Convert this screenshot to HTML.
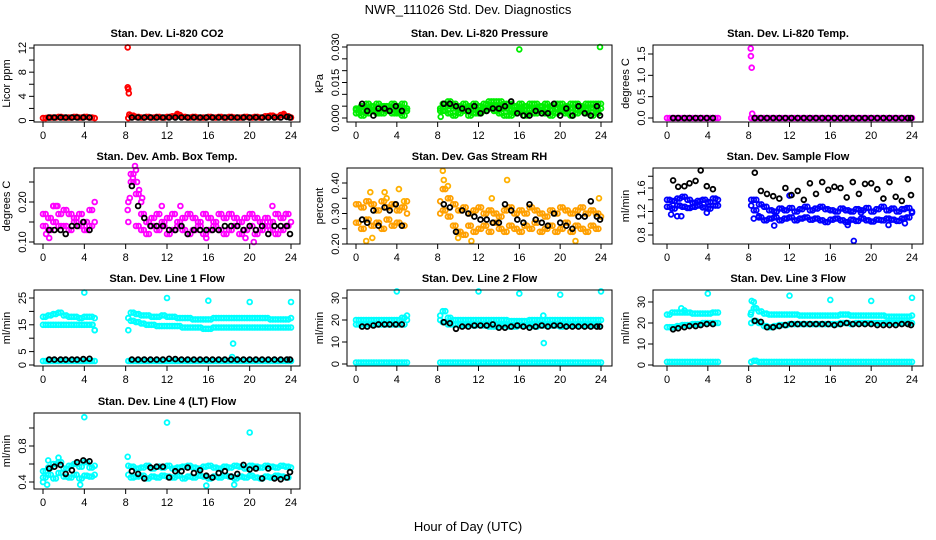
<!DOCTYPE html>
<html><head><meta charset="utf-8"><style>
html,body{margin:0;padding:0;background:#fff}
svg{display:block;font-family:"Liberation Sans",sans-serif}
</style></head><body>
<svg id="chart" width="936" height="540" viewBox="0 0 936 540" xmlns="http://www.w3.org/2000/svg">
<text x="468" y="14" text-anchor="middle" font-size="13">NWR_111026  Std. Dev. Diagnostics</text>
<text x="468" y="531" text-anchor="middle" font-size="13">Hour of Day (UTC)</text>
</svg>
<script>
// shared time arrays (hours)
const T = [0,0.5,1,1.5,2,2.5,3,3.5,4,4.5,5,8.5,9,9.5,10,10.5,11,11.5,12,12.5,13,13.5,14,14.5,15,15.5,16,16.5,17,17.5,18,18.5,19,19.5,20,20.5,21,21.5,22,22.5,23,23.5,24];
const T2 = [0.25,0.75,1.25,1.75,2.25,2.75,3.25,3.75,4.25,4.75,8.25,8.75,9.25,9.75,10.25,10.75,11.25,11.75,12.25,12.75,13.25,13.75,14.25,14.75,15.25,15.75,16.25,16.75,17.25,17.75,18.25,18.75,19.25,19.75,20.25,20.75,21.25,21.75,22.25,22.75,23.25,23.75];
const TK = [0.6,1.1,1.7,2.2,2.8,3.3,3.9,4.5,8.6,9.2,9.8,10.4,11,11.6,12.2,12.8,13.4,14,14.6,15.2,15.8,16.4,17,17.6,18.2,18.8,19.4,20,20.6,21.2,21.8,22.4,23,23.6,23.9];
const xTicks = [0,4,8,12,16,20,24];

// CO2
const co2Main = [0.4,0.5,0.5,0.6,0.5,0.5,0.6,0.5,0.6,0.5,0.4,0.8,0.6,0.5,0.6,0.5,0.6,0.5,0.6,0.7,0.9,0.6,0.5,0.6,0.5,0.5,0.6,0.5,0.6,0.5,0.6,0.5,0.5,0.6,0.5,0.6,0.5,0.7,0.8,0.6,0.9,0.7,0.5];
const co2OutX = [8.2,8.2,8.25,8.3,8.35,13,23.3];
const co2OutY = [12.1,5.5,5.2,4.5,1.0,1.1,1.1];
const co2Black = [0.5,0.5,0.5,0.5,0.5,0.5,0.5,0.5,0.5,0.5,0.5,0.5,0.5,0.5,0.5,0.5,0.5,0.5,0.5,0.5,0.5,0.5,0.5,0.5,0.5,0.5,0.5,0.5,0.5,0.5,0.5,0.5,0.5,0.6,0.5];
// Pressure
const presHi = [0.004,0.005,0.006,0.005,0.006,0.005,0.005,0.006,0.005,0.006,0.004,0.006,0.007,0.006,0.005,0.006,0.005,0.006,0.005,0.006,0.007,0.007,0.007,0.006,0.006,0.005,0.006,0.005,0.006,0.006,0.005,0.006,0.005,0.006,0.006,0.005,0.006,0.006,0.005,0.006,0.006,0.006,0.006];
const presMid = [0.0035,0.003,0.004,0.0035,0.003,0.004,0.0035,0.004,0.003,0.004,0.003,0.0045,0.005,0.004,0.0035,0.003,0.004,0.0035,0.003,0.004,0.0045,0.005,0.0045,0.004,0.0035,0.003,0.004,0.0035,0.0035,0.004,0.003,0.004,0.0035,0.004,0.0035,0.003,0.004,0.0035,0.004,0.0035,0.004,0.0035,0.004];
const presLo = [0.002,0.001,0.002,0.003,0.002,0.002,0.003,0.002,0.002,0.001,0.004,0.003,0.002,0.001,0.002,0.003,0.001,0.002,0.002,0.003,0.004,0.003,0.002,0.001,0.001,0.002,0.003,0.001,0.002,0.002,0.003,0.002,0.001,0.002,0.003,0.002,0.001,0.002,0.003,0.002,0.001,0.002];
const presOutX = [8.3,16,23.9];
const presOutY = [0.0005,0.029,0.030];
const presBlack = [0.006,0.003,0.001,0.004,0.004,0.003,0.005,0.003,0.006,0.006,0.005,0.004,0.003,0.005,0.002,0.003,0.004,0.004,0.005,0.007,0.002,0.001,0.001,0.003,0.002,0.002,0.006,0.001,0.004,0.001,0.005,0.002,0.001,0.005,0.001];
// Li-820 temp
const tempMain = [0,0,0,0,0,0,0,0,0,0,0,0,0,0,0,0,0,0,0,0,0,0,0,0,0,0,0,0,0,0,0,0,0,0,0,0,0,0,0,0,0,0,0];
const tempOutX = [8.2,8.22,8.3,8.35];
const tempOutY = [1.63,1.45,1.18,0.1];
const tempBlack = [0,0,0,0,0,0,0,0,0,0,0,0,0,0,0,0,0,0,0,0,0,0,0,0,0,0,0,0,0,0,0,0,0,0,0];
// Amb box temp
const ambHi = [0.17,0.16,0.19,0.17,0.18,0.17,0.16,0.17,0.15,0.18,0.15,0.27,0.22,0.17,0.15,0.16,0.17,0.15,0.16,0.17,0.15,0.16,0.17,0.16,0.15,0.17,0.16,0.15,0.17,0.16,0.17,0.16,0.15,0.16,0.17,0.16,0.15,0.16,0.15,0.17,0.16,0.17,0.15];
const ambLo = [0.14,0.13,0.15,0.14,0.14,0.13,0.15,0.14,0.13,0.14,0.20,0.25,0.14,0.13,0.12,0.14,0.13,0.14,0.12,0.13,0.14,0.13,0.12,0.13,0.14,0.12,0.13,0.14,0.13,0.12,0.13,0.14,0.12,0.13,0.14,0.12,0.13,0.14,0.13,0.12,0.13,0.14];
const ambOutX = [0.3,0.6,1.0,1.4,8.2,8.4,8.7,8.9,9.0,9.1,9.3,9.5,9.6,11.5,13.3,15.8,19.6,20.4,22.2,23.5];
const ambOutY = [0.12,0.11,0.19,0.19,0.18,0.21,0.26,0.29,0.28,0.25,0.23,0.20,0.21,0.19,0.19,0.11,0.11,0.10,0.19,0.17];
const ambBlack = [0.13,0.13,0.13,0.12,0.14,0.14,0.15,0.13,0.24,0.19,0.16,0.14,0.14,0.14,0.13,0.13,0.14,0.12,0.13,0.13,0.13,0.13,0.13,0.14,0.14,0.14,0.13,0.14,0.13,0.14,0.12,0.14,0.14,0.14,0.12];
// RH
const rhHi = [0.33,0.32,0.34,0.33,0.31,0.34,0.32,0.33,0.31,0.32,0.30,0.38,0.35,0.33,0.31,0.32,0.30,0.31,0.32,0.30,0.31,0.30,0.29,0.31,0.32,0.30,0.31,0.30,0.32,0.31,0.30,0.29,0.31,0.30,0.32,0.31,0.30,0.31,0.32,0.30,0.31,0.30,0.29];
const rhLo = [0.27,0.25,0.28,0.26,0.27,0.25,0.28,0.26,0.27,0.26,0.34,0.31,0.29,0.26,0.24,0.23,0.26,0.24,0.25,0.26,0.24,0.27,0.25,0.24,0.26,0.25,0.24,0.26,0.25,0.27,0.24,0.25,0.26,0.24,0.25,0.27,0.24,0.26,0.25,0.24,0.26,0.25];
const rhOutX = [1.0,1.6,1.4,2.8,3.0,4.2,4.7,8.5,8.6,9.0,10.0,14.8,13.3,21.5,23.8,11.3];
const rhOutY = [0.21,0.22,0.37,0.37,0.35,0.38,0.34,0.44,0.41,0.39,0.22,0.41,0.35,0.21,0.35,0.21];
const rhBlack = [0.28,0.27,0.31,0.26,0.32,0.31,0.33,0.26,0.33,0.32,0.24,0.31,0.30,0.29,0.28,0.28,0.27,0.27,0.33,0.31,0.28,0.27,0.33,0.28,0.27,0.26,0.30,0.27,0.26,0.25,0.29,0.29,0.34,0.29,0.28];
// Sample flow
const sfHi = [1.40,1.38,1.42,1.45,1.40,1.35,1.38,1.40,1.36,1.42,1.40,1.40,1.32,1.28,1.22,1.20,1.25,1.22,1.26,1.20,1.24,1.28,1.22,1.25,1.28,1.24,1.22,1.20,1.25,1.22,1.20,1.24,1.22,1.26,1.20,1.24,1.28,1.22,1.25,1.20,1.24,1.26,1.20];
const sfLo = [1.28,1.25,1.30,1.28,1.26,1.28,1.30,1.27,1.25,1.30,1.30,1.22,1.10,1.05,1.08,1.10,1.05,1.08,1.10,1.05,1.08,1.10,1.06,1.08,1.05,1.02,1.06,1.08,1.05,1.02,1.06,1.04,1.08,1.05,1.03,1.06,1.05,1.08,1.06,1.04,1.08,1.10];
const sfOutX = [0.4,1.0,1.4,3.9,8.5,9.0,10.5,12,18.3,17.7,19.0,21.7,23.3,24];
const sfOutY = [1.15,1.12,1.12,1.18,1.08,1.12,0.96,1.47,0.70,0.97,1.18,0.97,1.00,1.18];
const sfBlack = [1.73,1.62,1.63,1.68,1.72,1.90,1.63,1.58,1.86,1.55,1.50,1.46,1.42,1.60,1.48,1.55,1.40,1.68,1.50,1.70,1.57,1.62,1.60,1.44,1.70,1.50,1.67,1.68,1.58,1.42,1.70,1.45,1.38,1.75,1.48];
// Line 1
const l1Hi = [18,18.5,19,19.5,18.5,18,18,17.5,18,18,17.5,19.5,19,18.5,18.5,18,18,18.5,18,18,17.5,17.5,17.5,17,17,17,17,17.5,17.5,17.5,17.5,17.5,17.5,17.5,17.5,17.5,17.5,17.5,17,17,17,17,17.5];
const l1Lo = [15,15,15,15,15,15,15,15,15,15,13,16.5,16,15.5,15,15,14.5,14.5,14.5,14.5,14.5,14,14,14,14,13.5,13.5,14,14,14,14,14,14,14,14,14,14,14,14,14,14,14,14];
const l1Base = [1.5,1.5,1.5,1.5,1.5,1.5,1.5,1.5,1.5,1.5,1.5,1.5,1.5,1.5,1.5,1.5,1.5,1.5,1.5,1.5,1.5,1.5,1.5,1.5,1.5,1.5,1.5,1.5,1.5,1.5,1.5,1.5,1.5,1.5,1.5,1.5,1.5,1.5,1.5,1.5,1.5,1.5,1.5];
const l1OutX = [4,12,16,20,24,18.4,18.3,4.8,5.0];
const l1OutY = [27,25,24,23.5,23.5,8,3,15,13];
const l1Black = [2,2,2,2,2,2,2.2,2.3,2,2,2,2,2,2,2.3,2.2,2,2,2,2,2,2,2,2,2,2,2,2,2,2,2,2,2,2,2];
// Line 2
const l2Hi = [20,20,20,20,20,20,20,20,20,21,20,24,21,20,20,20,20,20,20,20,20,20,20,20,19.5,19.5,19.5,19.5,20,20,20,20,20,20,20,20,20,20,20,20,20,20,20];
const l2Lo = [18,18,18,18,18,18,18,18,18,18,22,19,18,18,18,17.5,18,17.5,18,17.5,17,17,17.5,17.5,17,17,17.5,17.5,17.5,17,17.5,17.5,17.5,17.5,17,17.5,17.5,17.5,17.5,17.5,17.5,17.5];
const l2Base = [0.7,0.7,0.7,0.7,0.7,0.7,0.7,0.7,0.7,0.7,0.7,0.7,0.7,0.7,0.7,0.7,0.7,0.7,0.7,0.7,0.7,0.7,0.7,0.7,0.7,0.7,0.7,0.7,0.7,0.7,0.7,0.7,0.7,0.7,0.7,0.7,0.7,0.7,0.7,0.7,0.7,0.7,0.7];
const l2OutX = [4,12,16,20,24,18.4,18.35];
const l2OutY = [33,33,32,31.5,33,9.5,22];
const l2Black = [17,17,17.5,18,18,18,18,18,19,18.5,16,17,17,17.5,17.5,17.5,18,16.5,16.5,17,17.5,17,16.5,17,17.5,17,17.5,17.5,17,17,17,17,17,17,17];
// Line 3
const l3Hi = [24,25,25,25,25,24.5,24.5,24.5,24.5,25,25,27,25.5,24.5,24,24,24,24,24,24,23.5,23.5,23.5,23.5,23.5,23.5,23.5,23.5,24,24,23.5,23.5,23.5,23.5,23.5,23.5,23.5,23,23,23,23,23,23.5];
const l3Lo = [18,18,18.5,19,19,19.5,19.5,20,20,20,20,21,20,18.5,18,18.5,19,19,19.5,19.5,19.5,19.5,19.5,19.5,19.5,19.5,19.5,19.5,20,20,19.5,20,20,20,20,20,20,20,20,20,20,20,20];
const l3Base = [1.5,1.5,1.5,1.5,1.5,1.5,1.5,1.5,1.5,1.5,1.5,2,1.5,1.5,1.5,1.5,1.5,1.5,1.5,1.5,1.5,1.5,1.5,1.5,1.5,1.5,1.5,1.5,1.5,1.5,1.5,1.5,1.5,1.5,1.5,1.5,1.5,1.5,1.5,1.5,1.5,1.5,1.5];
const l3OutX = [8.2,8.3,8.5,8.7,1.4,1.7,4,12,16,20,24];
const l3OutY = [24,30.5,30,27,27,26,34,33,31,30.5,32];
const l3Black = [17,17.5,18,18.5,18.5,19,19.5,19.5,21,20.5,18,18,18.5,19,19.5,19.5,19.5,19.5,19.5,19.5,19.5,19,19.5,20,19.5,19.5,19.5,19.5,19,19,19,19,19.5,19.5,19];
// Line 4
const l4Hi = [0.52,0.56,0.60,0.62,0.55,0.58,0.60,0.57,0.62,0.56,0.58,0.57,0.55,0.56,0.58,0.55,0.57,0.56,0.58,0.55,0.56,0.57,0.58,0.56,0.55,0.57,0.58,0.56,0.55,0.57,0.56,0.58,0.57,0.55,0.58,0.57,0.56,0.58,0.57,0.56,0.58,0.57,0.56];
const l4Lo = [0.45,0.48,0.44,0.50,0.46,0.45,0.48,0.44,0.47,0.46,0.48,0.45,0.46,0.47,0.44,0.46,0.45,0.47,0.46,0.45,0.47,0.44,0.46,0.45,0.47,0.46,0.44,0.46,0.45,0.47,0.46,0.44,0.46,0.45,0.47,0.45,0.44,0.46,0.45,0.47,0.46,0.45];
const l4OutX = [4,12,20,8.2,0,0.4,3.6,15.8,18.5,0.5,1.5];
const l4OutY = [1.12,1.06,0.95,0.68,0.40,0.37,0.37,0.36,0.37,0.64,0.67];
const l4Black = [0.55,0.57,0.59,0.49,0.53,0.62,0.64,0.63,0.52,0.49,0.44,0.56,0.57,0.57,0.45,0.52,0.52,0.56,0.50,0.53,0.47,0.45,0.50,0.52,0.46,0.49,0.59,0.54,0.55,0.44,0.55,0.44,0.43,0.45,0.51];

const NS = 'http://www.w3.org/2000/svg';
const svg = document.getElementById('chart');
function mk(tag, attrs, parent){const e=document.createElementNS(NS,tag);for(const k in attrs)e.setAttribute(k,attrs[k]);(parent||svg).appendChild(e);return e;}

const COLS = [{l:34,r:300,x0:43,x24:291},{l:347,r:612,x0:356,x24:601},{l:653,r:923,x0:667,x24:912}];
const ROWS = [{t:45,b:122},{t:168,b:244},{t:290,b:366},{t:413,b:489}];

const panels = [
 {name:'co2',title:'Stan. Dev. Li-820 CO2',ylab:'Licor ppm',c:0,r:0,v0:0,p0:120.5,v1:12,p1:48,ticks:[0,2,4,6,8,10,12],labels:[0,4,8,12],dec:0,
  series:[{x:T,y:co2Main,col:'#ff0000'},{x:T2,y:co2Main,col:'#ff0000'},{x:co2OutX,y:co2OutY,col:'#ff0000'},{x:TK,y:co2Black,col:'#000'}]},
 {name:'pressure',title:'Stan. Dev. Li-820 Pressure',ylab:'kPa',c:1,r:0,v0:0,p0:118,v1:0.03,p1:47,ticks:[0,0.005,0.01,0.015,0.02,0.025,0.03],labels:[0,0.015,0.03],dec:3,
  series:[{x:T,y:presHi,col:'#00ee00'},{x:T2,y:presHi,col:'#00ee00'},{x:T,y:presMid,col:'#00ee00'},{x:T2,y:presMid,col:'#00ee00'},{x:T2,y:presLo,col:'#00ee00'},{x:T,y:presLo,col:'#00ee00'},{x:presOutX,y:presOutY,col:'#00ee00'},{x:TK,y:presBlack,col:'#000'}]},
 {name:'li820-temp',title:'Stan. Dev. Li-820 Temp.',ylab:'degrees C',c:2,r:0,v0:0,p0:118,v1:1.5,p1:54,ticks:[0,0.5,1,1.5],labels:[0,0.5,1,1.5],dec:1,
  series:[{x:T,y:tempMain,col:'#ff00ff'},{x:T2,y:tempMain,col:'#ff00ff'},{x:tempOutX,y:tempOutY,col:'#ff00ff'},{x:TK,y:tempBlack,col:'#000'}]},
 {name:'amb-box-temp',title:'Stan. Dev. Amb. Box Temp.',ylab:'degrees C',c:0,r:1,v0:0.1,p0:242,v1:0.2,p1:202,ticks:[0.1,0.15,0.2,0.25],labels:[0.1,0.2],dec:2,
  series:[{x:T,y:ambHi,col:'#ff00ff'},{x:T2,y:ambHi,col:'#ff00ff'},{x:T2,y:ambLo,col:'#ff00ff'},{x:T,y:ambLo,col:'#ff00ff'},{x:ambOutX,y:ambOutY,col:'#ff00ff'},{x:TK,y:ambBlack,col:'#000'}]},
 {name:'gas-stream-rh',title:'Stan. Dev. Gas Stream RH',ylab:'percent',c:1,r:1,v0:0.2,p0:244,v1:0.4,p1:183,ticks:[0.2,0.25,0.3,0.35,0.4],labels:[0.2,0.3,0.4],dec:2,
  series:[{x:T,y:rhHi,col:'#ffa000'},{x:T2,y:rhHi,col:'#ffa000'},{x:T2,y:rhLo,col:'#ffa000'},{x:T,y:rhLo,col:'#ffa000'},{x:rhOutX,y:rhOutY,col:'#ffb000'},{x:TK,y:rhBlack,col:'#000'}]},
 {name:'sample-flow',title:'Stan. Dev. Sample Flow',ylab:'ml/min',c:2,r:1,v0:0.8,p0:235,v1:1.6,p1:188,ticks:[0.8,1.0,1.2,1.4,1.6,1.8],labels:[0.8,1.2,1.6],dec:1,
  series:[{x:T,y:sfHi,col:'#0000ff'},{x:T2,y:sfHi,col:'#0000ff'},{x:T2,y:sfLo,col:'#0000ff'},{x:T,y:sfLo,col:'#0000ff'},{x:sfOutX,y:sfOutY,col:'#0000ff'},{x:TK,y:sfBlack,col:'#000'}]},
 {name:'line1-flow',title:'Stan. Dev. Line 1 Flow',ylab:'ml/min',c:0,r:2,v0:0,p0:365,v1:25,p1:298,ticks:[0,5,10,15,20,25],labels:[0,5,15,25],dec:0,
  series:[{x:T,y:l1Hi,col:'#00ffff'},{x:T2,y:l1Hi,col:'#00ffff'},{x:T,y:l1Lo,col:'#00ffff'},{x:T2,y:l1Lo,col:'#00ffff'},{x:T,y:l1Base,col:'#00ffff'},{x:T2,y:l1Base,col:'#00ffff'},{x:l1OutX,y:l1OutY,col:'#00ffff'},{x:TK,y:l1Black,col:'#000'}]},
 {name:'line2-flow',title:'Stan. Dev. Line 2 Flow',ylab:'ml/min',c:1,r:2,v0:0,p0:364,v1:30,p1:298,ticks:[0,10,20,30],labels:[0,10,20,30],dec:0,
  series:[{x:T,y:l2Hi,col:'#00ffff'},{x:T2,y:l2Hi,col:'#00ffff'},{x:T2,y:l2Lo,col:'#00ffff'},{x:T,y:l2Lo,col:'#00ffff'},{x:T,y:l2Base,col:'#00ffff'},{x:T2,y:l2Base,col:'#00ffff'},{x:l2OutX,y:l2OutY,col:'#00ffff'},{x:TK,y:l2Black,col:'#000'}]},
 {name:'line3-flow',title:'Stan. Dev. Line 3 Flow',ylab:'ml/min',c:2,r:2,v0:0,p0:365,v1:30,p1:302,ticks:[0,10,20,30],labels:[0,10,20,30],dec:0,
  series:[{x:T,y:l3Hi,col:'#00ffff'},{x:T2,y:l3Hi,col:'#00ffff'},{x:T,y:l3Lo,col:'#00ffff'},{x:T2,y:l3Lo,col:'#00ffff'},{x:T,y:l3Base,col:'#00ffff'},{x:T2,y:l3Base,col:'#00ffff'},{x:l3OutX,y:l3OutY,col:'#00ffff'},{x:TK,y:l3Black,col:'#000'}]},
 {name:'line4-flow',title:'Stan. Dev. Line 4 (LT) Flow',ylab:'ml/min',c:0,r:3,v0:0.4,p0:482,v1:0.8,p1:446,ticks:[0.4,0.6,0.8,1.0],labels:[0.4,0.8],dec:1,
  series:[{x:T,y:l4Hi,col:'#00ffff'},{x:T2,y:l4Lo,col:'#00ffff'},{x:T,y:l4Lo,col:'#00ffff'},{x:T2,y:l4Hi,col:'#00ffff'},{x:l4OutX,y:l4OutY,col:'#00ffff'},{x:TK,y:l4Black,col:'#000'}]}
];

panels.forEach(p=>{
  const C=COLS[p.c], R=ROWS[p.r];
  const xs=h=>C.x0+(h/24)*(C.x24-C.x0);
  const ys=v=>p.p0+(v-p.v0)/(p.v1-p.v0)*(p.p1-p.p0);
  const g=mk('g',{});
  
  
  const title=mk('text',{x:(C.l+C.r)/2,y:R.t-8,'text-anchor':'middle','font-size':'11','font-weight':'bold'},g);
  title.textContent=p.title;
  
  
  const yl=mk('text',{transform:`translate(${C.l-24},${(R.t+R.b)/2}) rotate(-90)`,'text-anchor':'middle','font-size':'11'},g);
  yl.textContent=p.ylab;
  
  
  const pts=mk('g',{fill:'none','stroke-width':'1.8'},g);
  
  
  p.series.forEach(s=>{
    const n=Math.min(s.x.length,s.y.length);
    for(let i=0;i<n;i++){
      const c=mk('circle',{cx:xs(s.x[i]).toFixed(1),cy:ys(s.y[i]).toFixed(1),r:'2.4',stroke:s.col},pts);
      
      
    }
  });
  const box=mk('rect',{x:C.l,y:R.t,width:C.r-C.l,height:R.b-R.t,fill:'none',stroke:'#000','stroke-width':'1'},g);
  
  
  const xa=mk('g',{},g);
  
  
  xTicks.forEach(t=>{
    const x=xs(t);
    mk('line',{x1:x,x2:x,y1:R.b,y2:R.b+5,stroke:'#000'},xa);
    const tx=mk('text',{x:x,y:R.b+17,'text-anchor':'middle','font-size':'11'},xa);
    tx.textContent=t;
  });
  const ya=mk('g',{},g);
  
  
  p.ticks.forEach(t=>{
    const y=ys(t);
    mk('line',{x1:C.l-5,x2:C.l,y1:y,y2:y,stroke:'#000'},ya);
  });
  p.labels.forEach(t=>{
    const y=ys(t);
    const tx=mk('text',{transform:`translate(${C.l-8},${y}) rotate(-90)`,'text-anchor':'middle','font-size':'11'},ya);
    tx.textContent=t.toFixed(p.dec);
  });
});
</script>
</body></html>
